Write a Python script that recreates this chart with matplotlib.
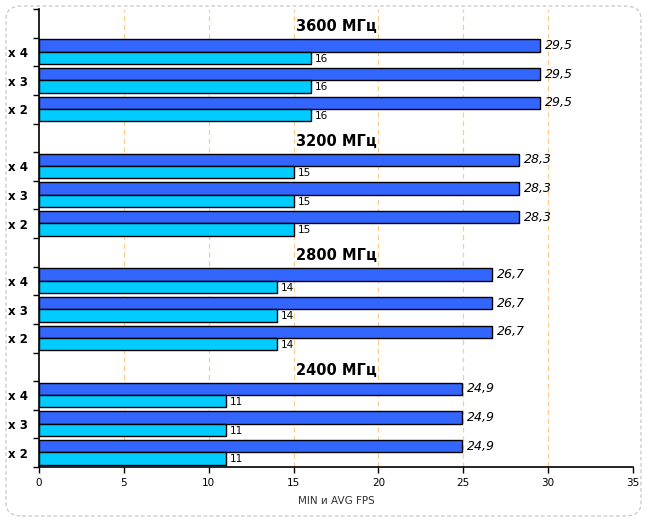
import matplotlib
matplotlib.use("Agg")
import matplotlib.pyplot as plt
from matplotlib.patches import FancyBboxPatch
import numpy as np

groups = ["3600 МГц", "3200 МГц", "2800 МГц", "2400 МГц"]
subgroups = ["x 4", "x 3", "x 2"]
avg_fps = [29.5, 28.3, 26.7, 24.9]
min_fps = [16, 15, 14, 11]
xticks = [0, 5, 10, 15, 20, 25, 30, 35]
xlabel = "MIN и AVG FPS"

c_avg = "#3366FF"
c_min = "#00CCFF"

fig = plt.figure(figsize=(6.47, 5.22), dpi=100)
fig.patch.set_facecolor("white")
border = FancyBboxPatch((6 / 647, 6 / 522), 635 / 647, 510 / 522,
                        boxstyle="round,pad=0,rounding_size=0.025",
                        transform=fig.transFigure, fill=False,
                        edgecolor="#C8C8C8", linestyle=(0, (3, 2)), linewidth=0.9)
fig.patches.append(border)

ax = fig.add_axes([39 / 647, 1 - 467 / 522, (633 - 39) / 647, (467 - 9) / 522])

nslots = len(groups) * (len(subgroups) + 1)
h = 0.43
label_pos = []
label_txt = []
for g, name in enumerate(groups):
    base = g * (len(subgroups) + 1)
    ax.text(17.5, base + 0.62, name, ha="center", va="center",
            fontsize=10.5, fontweight="bold")
    for s, sg in enumerate(subgroups):
        i = base + 1 + s
        yb = i + 0.06 + h / 2
        yc = i + 0.49 + h / 2
        ax.barh(yb, avg_fps[g], height=h, color=c_avg, edgecolor="black",
                linewidth=1.0, zorder=3)
        ax.barh(yc, min_fps[g], height=h, color=c_min, edgecolor="black",
                linewidth=1.0, zorder=3)
        ax.text(avg_fps[g] + 0.3, yb, f"{avg_fps[g]:.1f}".replace(".", ","),
                ha="left", va="center", fontsize=9, fontstyle="italic", zorder=4)
        ax.text(min_fps[g] + 0.25, yc + 0.03, f"{min_fps[g]}", ha="left",
                va="center", fontsize=7.5, zorder=4)
        label_pos.append(i + 0.5)
        label_txt.append(sg)

ax.set_xlim(0, 35)
ax.set_ylim(nslots, 0)
ax.set_xticks(xticks)
ax.set_xticklabels([str(t) for t in xticks], fontsize=7.5)
ax.set_yticks(np.arange(0, nslots + 1), minor=True)
ax.set_yticks(label_pos)
ax.set_yticklabels(label_txt, fontsize=8.5, fontweight="bold")
ax.tick_params(axis="y", which="major", length=0, pad=8)
ax.tick_params(axis="y", which="minor", length=4, width=1, direction="out")
ax.tick_params(axis="x", length=4, width=1, direction="out", pad=4)
for sp in ["top", "right"]:
    ax.spines[sp].set_visible(False)
for sp in ["left", "bottom"]:
    ax.spines[sp].set_linewidth(1.2)
for x in xticks[1:-1]:
    ax.axvline(x, color="#FFCC88", linestyle=(0, (4, 3)), linewidth=0.9, zorder=1)
ax.set_xlabel(xlabel, fontsize=7.5, color="#333333", labelpad=6)

fig.savefig("out.png", dpi=100)
